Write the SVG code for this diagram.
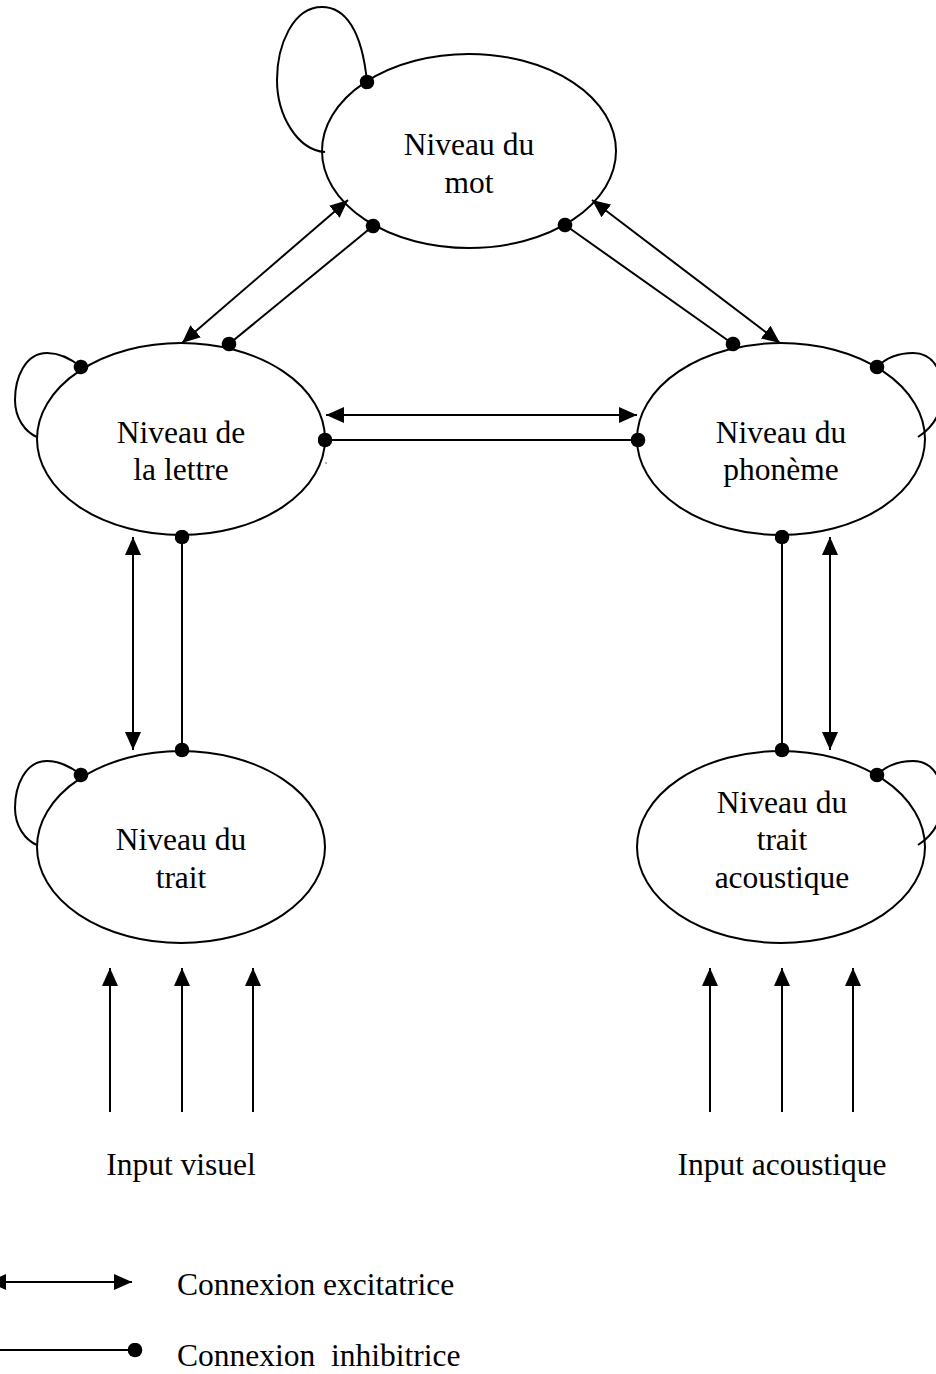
<svg xmlns="http://www.w3.org/2000/svg" width="936" height="1374" viewBox="0 0 936 1374">
<style>
.n{fill:#fff;stroke:#000;stroke-width:2}
.t{font-family:"Liberation Serif","Times New Roman",serif;font-size:31.5px;fill:#000;text-anchor:middle}
.lg{font-family:"Liberation Serif","Times New Roman",serif;font-size:31.5px;fill:#000}
.c{fill:none;stroke:#000;stroke-width:2}
.ex{marker-start:url(#arr);marker-end:url(#arr)}
.ea{marker-end:url(#arr)}
.ih{marker-start:url(#dot);marker-end:url(#dot)}
.ie{marker-end:url(#dot)}
.is{marker-start:url(#dot)}
</style>
<defs>
<marker id="arr" markerUnits="userSpaceOnUse" viewBox="0 0 18 16" markerWidth="18" markerHeight="16" refX="18" refY="8" orient="auto-start-reverse">
<path d="M0,0 L18,8 L0,16 Z" fill="#000"/>
</marker>
<marker id="dot" markerUnits="userSpaceOnUse" viewBox="0 0 15 15" markerWidth="15" markerHeight="15" refX="7.5" refY="7.5" orient="auto">
<circle cx="7.5" cy="7.5" r="7.3" fill="#000"/>
</marker>
</defs>
<g id="mot">
<ellipse class="n" cx="469" cy="151" rx="147" ry="97"/>
<text class="t" x="469" y="155">Niveau du</text>
<text class="t" x="469" y="193">mot</text>
</g>
<g id="lettre">
<ellipse class="n" cx="181" cy="439" rx="144" ry="96"/>
<text class="t" x="181" y="443">Niveau de</text>
<text class="t" x="181" y="480">la lettre</text>
</g>
<g id="phoneme">
<ellipse class="n" cx="781" cy="439" rx="144" ry="96"/>
<text class="t" x="781" y="443">Niveau du</text>
<text class="t" x="781" y="480">phonème</text>
</g>
<g id="trait">
<ellipse class="n" cx="181" cy="847" rx="144" ry="96"/>
<text class="t" x="181" y="850">Niveau du</text>
<text class="t" x="181" y="888">trait</text>
</g>
<g id="acoustique">
<ellipse class="n" cx="781" cy="847" rx="144" ry="96"/>
<text class="t" x="782" y="813">Niveau du</text>
<text class="t" x="782" y="850">trait</text>
<text class="t" x="782" y="888">acoustique</text>
</g>
<g id="inputs">
<text class="t" x="181" y="1175">Input visuel</text>
<text class="t" x="782" y="1175">Input acoustique</text>
</g>
<g id="connectors">
<path class="c ie" d="M325,152 C297,150 277,115 277,80 C277,45 293,7 322,7 C345,7 362,30 367,82"/>
<path class="c ie" d="M37,437 C25,432 15,418 15,400 C15,378 25,353 47,353 C58,353 70,358 81,367"/>
<path class="c ie" d="M37,845 C25,840 15,826 15,808 C15,786 25,761 47,761 C58,761 70,766 81,775"/>
<path class="c is" d="M877,367 C887,357 900,353 913,353 C935,353 945,375 942,400 C940,415 932,428 918,437"/>
<path class="c is" d="M877,775 C887,765 900,761 913,761 C935,761 945,783 942,808 C940,823 932,836 918,845"/>
<line class="c ex" x1="182" y1="343" x2="348" y2="200"/>
<line class="c ih" x1="229" y1="344" x2="373" y2="226"/>
<line class="c ex" x1="592" y1="200" x2="780" y2="343"/>
<line class="c ih" x1="565" y1="225" x2="733" y2="344"/>
<line class="c ex" x1="326" y1="415" x2="637" y2="415"/>
<line class="c ih" x1="325" y1="440" x2="638" y2="440"/>
<line class="c ex" x1="133" y1="537" x2="133" y2="750"/>
<line class="c ih" x1="182" y1="537" x2="182" y2="750"/>
<line class="c ih" x1="782" y1="537" x2="782" y2="750"/>
<line class="c ex" x1="830" y1="537" x2="830" y2="750"/>
<line class="c ea" x1="110" y1="1112" x2="110" y2="968"/>
<line class="c ea" x1="182" y1="1112" x2="182" y2="968"/>
<line class="c ea" x1="253" y1="1112" x2="253" y2="968"/>
<line class="c ea" x1="710" y1="1112" x2="710" y2="968"/>
<line class="c ea" x1="782" y1="1112" x2="782" y2="968"/>
<line class="c ea" x1="853" y1="1112" x2="853" y2="968"/>
<circle cx="326" cy="463" r="0.8" fill="#555"/>
</g>
<g id="legend">
<line class="c ex" x1="-12" y1="1282" x2="132" y2="1282"/>
<text class="lg" x="177" y="1295">Connexion excitatrice</text>
<line class="c ie" x1="0" y1="1350" x2="135" y2="1350"/>
<text class="lg" x="177" y="1366" xml:space="preserve">Connexion  inhibitrice</text>
</g>
</svg>
